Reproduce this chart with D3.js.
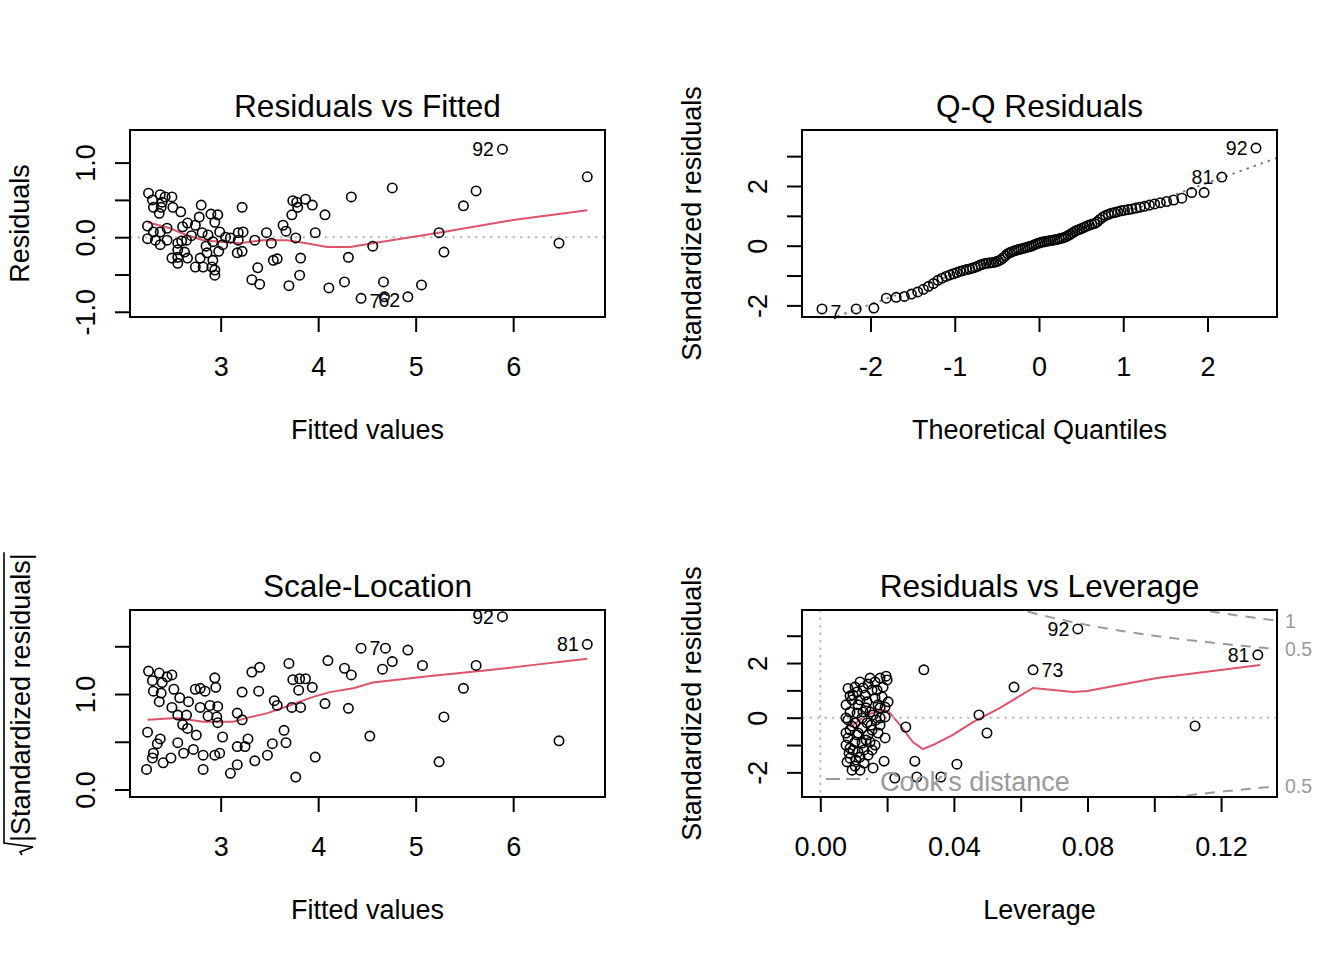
<!DOCTYPE html>
<html>
<head>
<meta charset="utf-8">
<script src="https://cdn.jsdelivr.net/npm/d3@7"></script>
<style>
  body { margin: 0; background: #fff; }
</style>
</head>
<body>
<div id="chart"></div>
<script>
'use strict';

/*
 lm diagnostic plots (plot.lm style), 2 x 2.
 Values.
*/

// ---- Residuals vs Fitted ----
const rvfFitted = [
  2.26, 2.38, 2.43, 2.50, 2.30, 2.40, 2.31, 2.39, 2.37, 2.51, 2.59, 2.80, 2.90, 2.97, 2.78, 2.94,
  3.22, 2.66, 2.74, 2.61, 2.25, 2.31, 2.38, 2.25, 2.33, 2.38, 2.45, 2.56, 2.65, 2.81, 2.87, 2.99,
  3.10, 3.18, 3.23, 3.18, 3.35, 3.47, 3.52, 3.02, 2.92, 2.56, 2.63, 2.56, 2.50, 2.66, 2.56, 2.79,
  2.86, 2.92, 2.74, 2.82, 2.91, 2.94, 2.94, 3.17, 3.22, 2.98, 3.38, 3.32, 3.40, 3.54, 3.58, 3.64,
  3.67, 3.73, 3.74, 3.78, 3.87, 3.79, 3.94, 3.77, 3.82, 3.81, 3.70, 3.97, 4.07, 4.34, 4.31, 4.27,
  4.11, 6.76, 4.76, 5.49, 5.62, 5.24, 4.56, 5.29, 6.47, 4.67, 5.06, 4.92, 2.45, 2.70, 2.85, 3.05, 2.60
];
const rvfResid = [
  0.59, 0.57, 0.54, 0.54, 0.50, 0.47, 0.40, 0.40, 0.32, 0.40, 0.34, 0.43, 0.31, 0.30, 0.27, 0.20,
  0.40, 0.19, 0.16, 0.14, 0.15, 0.07, 0.07, -0.02, -0.04, -0.10, -0.04, -0.08, -0.04, 0.06, 0.03, 0.07,
  -0.01, 0.06, 0.07, -0.04, -0.04, 0.06, -0.08, -0.10, -0.06, -0.17, -0.20, -0.27, -0.28, -0.28, -0.35, -0.28,
  -0.21, -0.31, -0.40, -0.40, -0.40, -0.44, -0.51, -0.21, -0.19, -0.19, -0.41, -0.57, -0.63, -0.31, -0.29, 0.16,
  0.08, 0.30, 0.49, 0.47, 0.51, 0.40, 0.43, -0.01, -0.28, -0.51, -0.65, 0.06, 0.30, 0.54, -0.27, -0.60,
  -0.68, 0.81, 0.66, 0.42, 0.62, 0.06, -0.12, -0.20, -0.08, -0.60, -0.64, -0.80, 0.12, 0.02, -0.12, 0.00, -0.05
];
const rvfIdFitted = [5.89, 4.44, 4.68];
const rvfIdResid = [1.18, -0.82, -0.80];
const rvfIdLabel = ["92", "7", "62"];
const rvfSmoothX = [2.25, 2.48, 2.65, 2.82, 2.99, 3.20, 3.43, 3.68, 3.88, 4.09, 4.33, 4.56, 5.24, 6.00, 6.76];
const rvfSmoothY = [0.20, 0.12, 0.03, -0.04, -0.06, -0.08, -0.04, -0.04, -0.08, -0.13, -0.13, -0.08, 0.06, 0.23, 0.36];

// ---- Q-Q Residuals (sorted standardized residuals) ----
const qqStdResid = [
  -2.12, -2.12, -2.09, -1.76, -1.73, -1.70, -1.62, -1.55, -1.46, -1.36,
  -1.27, -1.16, -1.09, -1.03, -0.98, -0.94, -0.90, -0.86, -0.83, -0.80,
  -0.78, -0.75, -0.72, -0.68, -0.64, -0.61, -0.59, -0.58, -0.57, -0.56,
  -0.54, -0.51, -0.47, -0.41, -0.34, -0.27, -0.23, -0.20, -0.17, -0.15,
  -0.13, -0.11, -0.09, -0.07, -0.05, -0.03, -0.01, 0.02, 0.05, 0.08,
  0.10, 0.12, 0.13, 0.15, 0.16, 0.17, 0.18, 0.20, 0.21, 0.23,
  0.25, 0.27, 0.30, 0.34, 0.38, 0.43, 0.48, 0.52, 0.55, 0.58,
  0.62, 0.66, 0.69, 0.72, 0.74, 0.80, 0.88, 0.95, 1.01, 1.05,
  1.09, 1.11, 1.14, 1.17, 1.19, 1.21, 1.23, 1.26, 1.29, 1.32,
  1.36, 1.40, 1.44, 1.48, 1.53, 1.59, 1.78, 1.78, 2.30, 3.27
];
const qqIdRank = [1, 99, 100];
const qqIdLabel = ["7", "81", "92"];

// ---- Scale-Location ----
const slFitted = [
  2.26, 2.37, 2.45, 2.50, 2.30, 2.40, 2.31, 2.39, 2.52, 2.37, 2.58, 2.67, 2.50, 2.56, 2.65, 2.61,
  2.66, 2.75, 2.74, 2.79, 2.84, 2.94, 2.95, 2.79, 2.89, 2.97, 2.87, 2.96, 2.97, 2.25, 2.38, 2.35,
  2.31, 2.30, 2.41, 2.49, 2.24, 2.56, 2.62, 2.72, 2.82, 2.82, 2.94, 2.99, 3.02, 3.17, 3.22, 3.17,
  3.25, 3.28, 3.17, 3.10, 3.35, 3.48, 3.53, 3.67, 3.65, 3.22, 3.32, 3.40, 3.39, 3.55, 3.58, 3.70,
  3.74, 3.81, 3.87, 3.80, 3.94, 3.73, 3.82, 3.77, 3.97, 4.07, 4.10, 4.27, 4.34, 4.31, 4.53, 4.69,
  4.92, 4.76, 4.66, 5.07, 5.62, 5.49, 5.29, 6.47, 5.24
];
const slRoot = [
  1.24, 1.22, 1.18, 1.20, 1.14, 1.12, 1.03, 1.01, 1.05, 0.92, 0.96, 0.92, 0.86, 0.78, 0.78, 0.68,
  0.64, 0.57, 1.05, 1.06, 1.03, 1.17, 1.07, 0.86, 0.88, 0.87, 0.77, 0.76, 0.70, 0.60, 0.53, 0.48,
  0.38, 0.33, 0.28, 0.33, 0.21, 0.49, 0.38, 0.42, 0.36, 0.21, 0.36, 0.38, 0.55, 0.80, 0.73, 0.45,
  0.45, 0.53, 0.26, 0.17, 0.30, 0.36, 0.48, 0.49, 0.62, 1.02, 1.23, 1.28, 1.03, 0.93, 0.88, 1.32,
  1.15, 1.16, 1.16, 1.04, 1.07, 0.86, 0.86, 0.13, 0.34, 0.90, 1.35, 1.27, 1.20, 0.85, 0.56, 1.48,
  1.46, 1.34, 1.26, 1.30, 1.30, 1.06, 0.76, 0.51, 0.29
];
const slIdFitted = [5.89, 6.76, 4.44];
const slIdRoot = [1.81, 1.52, 1.48];
const slIdLabel = ["92", "81", "7"];
const slSmoothX = [2.25, 2.55, 2.82, 3.13, 3.27, 3.48, 3.68, 3.81, 3.95, 4.12, 4.36, 4.56, 5.15, 5.66, 6.17, 6.76];
const slSmoothY = [0.73, 0.75, 0.71, 0.71, 0.75, 0.80, 0.87, 0.92, 0.97, 1.02, 1.06, 1.12, 1.19, 1.24, 1.30, 1.37];

// ---- Residuals vs Leverage ----
const levHat = [
  0.0310, 0.0083, 0.0197, 0.0200, 0.0179, 0.0149, 0.0119, 0.0104, 0.0128, 0.0155, 0.0188, 0.0098,
  0.0119, 0.0140, 0.0194, 0.0089, 0.0110, 0.0128, 0.0158, 0.0179, 0.0194, 0.0083, 0.0104, 0.0140,
  0.0179, 0.0089, 0.0113, 0.0143, 0.0149, 0.0083, 0.0104, 0.0125, 0.0089, 0.0113, 0.0089, 0.0119,
  0.0104, 0.0194, 0.0256, 0.0191, 0.0158, 0.0283, 0.0223, 0.0289, 0.0361, 0.0409, 0.0475, 0.0499,
  0.0580, 0.1122, 0.0095, 0.0113, 0.0134, 0.0164, 0.0173, 0.0077, 0.0125, 0.0149, 0.0167, 0.0095,
  0.0125, 0.0155, 0.0173, 0.0137, 0.0164, 0.0077, 0.0098, 0.0131, 0.0143, 0.0080, 0.0107, 0.0131,
  0.0095, 0.0119, 0.0170, 0.0143, 0.0164, 0.0110, 0.0089, 0.0185, 0.0203, 0.0077, 0.0110, 0.0077,
  0.0155, 0.0179, 0.0137, 0.0152, 0.0086
];
const levStdResid = [
  1.75, 1.07, 1.52, 1.38, 1.45, 1.45, 1.31, 1.12, 1.09, 1.01, 1.12, 0.83,
  0.65, 0.58, 0.39, 0.21, 0.17, 0.21, 0.10, -0.01, 0.03, -0.08, -0.19, -0.19,
  -0.27, -0.45, -0.56, -0.63, -0.89, -0.74, -0.89, -0.93, -1.11, -1.26, -1.48, -1.44,
  -1.77, -0.74, -0.34, -1.59, -1.84, -1.59, -2.21, -2.17, -2.17, -1.70, 0.10, -0.56,
  1.12, -0.30, 0.65, 0.47, 0.83, 0.72, 0.47, 0.47, -0.01, 0.21, -0.08, -0.31,
  -0.38, -0.45, -0.56, -0.82, -1.00, -1.00, -1.18, -1.18, -1.37, -1.62, -1.55, -1.66,
  -1.92, -1.92, 1.01, 1.23, 1.31, 0.94, 0.80, 0.76, 0.58, -0.01, -0.63, -0.56,
  -1.18, 0.36, 0.36, -0.27, -1.30
];
const levIdHat = [0.0771, 0.1310, 0.0637];
const levIdStd = [3.25, 2.30, 1.75];
const levIdLabel = ["92", "81", "73"];
const levSmoothX = [0.0088, 0.0140, 0.0179, 0.0203, 0.0239, 0.0277, 0.0307, 0.0337, 0.0397, 0.0457, 0.0538, 0.0637, 0.0757, 0.0799, 0.1008, 0.1317];
const levSmoothY = [-0.34, 0.10, 0.28, 0.25, -0.27, -0.89, -1.15, -1.00, -0.63, -0.16, 0.36, 1.09, 0.94, 0.98, 1.45, 1.93];
const cookLevels = [0.5, 1];
const nCoef = 2;

// ---- look ----
const FONT = '"Liberation Sans", Arial, Helvetica, sans-serif';
const AXIS_SIZE = 27;
const TITLE_SIZE = 31.6;
const ID_SIZE = 19.5;
const RED = "#DF536B";
const GRAY = "#BEBEBE";
const GRAY50 = "#7F7F7F";
const COOK = "#9A9A9A";

const svg = d3.select("#chart").append("svg")
  .attr("width", 1344)
  .attr("height", 960)
  .style("background", "#fff");

// R prints a plain hyphen for negatives
const locale = d3.formatLocale({ decimal: ".", thousands: ",", grouping: [3], currency: ["", ""], minus: "-" });
const fmt0 = locale.format("d");
const fmt1 = locale.format(".1f");
const fmt2 = locale.format(".2f");

// Acklam's inverse normal CDF, for theoretical quantiles
function qnorm(p) {
  const a = [-3.969683028665376e+01, 2.209460984245205e+02, -2.759285104469687e+02, 1.383577518672690e+02, -3.066479806614716e+01, 2.506628277459239e+00];
  const b = [-5.447609879822406e+01, 1.615858368580409e+02, -1.556989798598866e+02, 6.680131188771972e+01, -1.328068155288572e+01];
  const c = [-7.784894002430293e-03, -3.223964580411365e-01, -2.400758277161838e+00, -2.549732539343734e+00, 4.374664141464968e+00, 2.938163982698783e+00];
  const d = [7.784695709041462e-03, 3.224671290700398e-01, 2.445134137142996e+00, 3.754408661907416e+00];
  const plow = 0.02425;
  let q, r;
  if (p < plow) {
    q = Math.sqrt(-2 * Math.log(p));
    return (((((c[0] * q + c[1]) * q + c[2]) * q + c[3]) * q + c[4]) * q + c[5]) /
      ((((d[0] * q + d[1]) * q + d[2]) * q + d[3]) * q + 1);
  }
  if (p > 1 - plow) {
    q = Math.sqrt(-2 * Math.log(1 - p));
    return -(((((c[0] * q + c[1]) * q + c[2]) * q + c[3]) * q + c[4]) * q + c[5]) /
      ((((d[0] * q + d[1]) * q + d[2]) * q + d[3]) * q + 1);
  }
  q = p - 0.5;
  r = q * q;
  return (((((a[0] * r + a[1]) * r + a[2]) * r + a[3]) * r + a[4]) * r + a[5]) * q /
    (((((b[0] * r + b[1]) * r + b[2]) * r + b[3]) * r + b[4]) * r + 1);
}

const near = (list, v) => list.some(t => Math.abs(t - v) < 1e-9);

function makePanel(cfg) {
  const f = cfg.frame;
  const x = d3.scaleLinear().domain(cfg.xDomain).range([f.x0, f.x1]);
  const y = d3.scaleLinear().domain(cfg.yDomain).range([f.y1, f.y0]);

  const g = svg.append("g").classed("panel " + cfg.id, true);

  g.append("clipPath").attr("id", "clip-" + cfg.id)
    .append("rect")
    .attr("x", f.x0).attr("y", f.y0)
    .attr("width", f.x1 - f.x0).attr("height", f.y1 - f.y0);

  const plot = g.append("g").attr("clip-path", `url(#clip-${cfg.id})`);
  const marks = g.append("g");

  // bottom axis
  const axX = g.append("g")
    .attr("transform", `translate(0,${f.y1})`)
    .call(d3.axisBottom(x)
      .tickValues(cfg.xTicks)
      .tickSize(15)
      .tickSizeOuter(0)
      .tickFormat(d => near(cfg.xLabels, d) ? cfg.xFormat(d) : ""));
  axX.select(".domain").remove();
  axX.append("line")
    .attr("x1", x(cfg.xTicks[0])).attr("x2", x(cfg.xTicks[cfg.xTicks.length - 1]))
    .attr("stroke", "#000").attr("stroke-width", 2);
  axX.selectAll(".tick line").attr("stroke", "#000").attr("stroke-width", 2);
  axX.selectAll("text")
    .attr("y", 59).attr("dy", null)
    .attr("fill", "#000")
    .attr("font-family", FONT)
    .attr("font-size", AXIS_SIZE);

  // left axis, labels parallel to axis
  const axY = g.append("g")
    .attr("transform", `translate(${f.x0},0)`)
    .call(d3.axisLeft(y)
      .tickValues(cfg.yTicks)
      .tickSize(15)
      .tickSizeOuter(0)
      .tickFormat(d => near(cfg.yLabels, d) ? cfg.yFormat(d) : ""));
  axY.select(".domain").remove();
  axY.append("line")
    .attr("y1", y(cfg.yTicks[0])).attr("y2", y(cfg.yTicks[cfg.yTicks.length - 1]))
    .attr("stroke", "#000").attr("stroke-width", 2);
  axY.selectAll(".tick line").attr("stroke", "#000").attr("stroke-width", 2);
  axY.selectAll("text")
    .attr("x", 0).attr("y", 0).attr("dy", null)
    .attr("transform", "translate(-35,0) rotate(-90)")
    .attr("text-anchor", "middle")
    .attr("fill", "#000")
    .attr("font-family", FONT)
    .attr("font-size", AXIS_SIZE);

  // frame
  g.append("rect")
    .attr("x", f.x0).attr("y", f.y0)
    .attr("width", f.x1 - f.x0).attr("height", f.y1 - f.y0)
    .attr("fill", "none").attr("stroke", "#000").attr("stroke-width", 2);

  // title and x label
  g.append("text")
    .attr("x", (f.x0 + f.x1) / 2).attr("y", f.y0 - 13)
    .attr("text-anchor", "middle")
    .attr("font-family", FONT).attr("font-size", TITLE_SIZE)
    .text(cfg.title);

  g.append("text")
    .attr("x", (f.x0 + f.x1) / 2).attr("y", f.y1 + 122)
    .attr("text-anchor", "middle")
    .attr("font-family", FONT).attr("font-size", AXIS_SIZE)
    .text(cfg.xTitle);

  if (cfg.yTitle) {
    g.append("text")
      .attr("transform", `translate(${f.x0 - 101},${(f.y0 + f.y1) / 2}) rotate(-90)`)
      .attr("text-anchor", "middle")
      .attr("font-family", FONT).attr("font-size", AXIS_SIZE)
      .text(cfg.yTitle);
  }

  return { x, y, g, plot, marks, frame: f };
}

function drawPoints(p, xs, ys) {
  p.marks.append("g")
    .selectAll("circle")
    .data(xs.map((v, i) => [v, ys[i]]))
    .join("circle")
    .attr("cx", d => p.x(d[0]))
    .attr("cy", d => p.y(d[1]))
    .attr("r", 4.7)
    .attr("fill", "none")
    .attr("stroke", "#000")
    .attr("stroke-width", 1.6);
}

function drawSmooth(p, xs, ys) {
  const line = d3.line().x(d => p.x(d[0])).y(d => p.y(d[1]));
  p.plot.append("path")
    .attr("d", line(xs.map((v, i) => [v, ys[i]])))
    .attr("fill", "none")
    .attr("stroke", RED)
    .attr("stroke-width", 2);
}

function hLine(p, v, color) {
  p.plot.append("line")
    .attr("x1", p.frame.x0).attr("x2", p.frame.x1)
    .attr("y1", p.y(v)).attr("y2", p.y(v))
    .attr("stroke", color).attr("stroke-width", 2)
    .attr("stroke-dasharray", "2.5,5");
}

// labels go right of the point on the left half, left of it on the right half;
// nudge lets a crowded label slide along so it does not sit on its neighbour
function drawIds(p, xs, ys, labels, nudge = {}) {
  const mid = d3.mean(p.x.domain());
  p.marks.append("g")
    .selectAll("text")
    .data(labels.map((l, i) => ({ l, xv: xs[i], yv: ys[i] })))
    .join("text")
    .attr("x", d => {
      if (nudge[d.l]) return p.x(d.xv) + nudge[d.l].dx;
      return p.x(d.xv) + (d.xv > mid ? -8.5 : 8.5);
    })
    .attr("y", d => p.y(d.yv) + 7 + (d.yv < 0 ? 3 : 0))
    .attr("text-anchor", d => nudge[d.l] ? nudge[d.l].anchor : (d.xv > mid ? "end" : "start"))
    .attr("font-family", FONT)
    .attr("font-size", ID_SIZE)
    .text(d => d.l);
}

// ---------------- panel 1 ----------------
const p1 = makePanel({
  id: "rvf",
  frame: { x0: 130, x1: 605, y0: 130, y1: 317 },
  xDomain: [2.070, 6.942], yDomain: [-1.070, 1.437],
  xTicks: [3, 4, 5, 6], xLabels: [3, 4, 5, 6], xFormat: fmt0,
  yTicks: [-1, -0.5, 0, 0.5, 1], yLabels: [-1, 0, 1], yFormat: fmt1,
  title: "Residuals vs Fitted", xTitle: "Fitted values", yTitle: "Residuals"
});
hLine(p1, 0, GRAY);
drawPoints(p1, rvfFitted.concat(rvfIdFitted), rvfResid.concat(rvfIdResid));
drawSmooth(p1, rvfSmoothX, rvfSmoothY);
drawIds(p1, rvfIdFitted, rvfIdResid, rvfIdLabel, { "62": { anchor: "start", dx: -6 } });

// ---------------- panel 2 ----------------
const p2 = makePanel({
  id: "qq",
  frame: { x0: 802, x1: 1277, y0: 130, y1: 317 },
  xDomain: [-2.813, 2.825], yDomain: [-2.389, 3.876],
  xTicks: [-2, -1, 0, 1, 2], xLabels: [-2, -1, 0, 1, 2], xFormat: fmt0,
  yTicks: [-2, -1, 0, 1, 2, 3], yLabels: [-2, 0, 2], yFormat: fmt0,
  title: "Q-Q Residuals", xTitle: "Theoretical Quantiles", yTitle: "Standardized residuals"
});
const nq = qqStdResid.length;
const qqTheo = qqStdResid.map((_, i) => qnorm((i + 1 - 0.5) / nq));
{
  const yq = [d3.quantile(qqStdResid, 0.25), d3.quantile(qqStdResid, 0.75)];
  const xq = [qnorm(0.25), qnorm(0.75)];
  const slope = (yq[1] - yq[0]) / (xq[1] - xq[0]);
  const icpt = yq[0] - slope * xq[0];
  const [a, b] = p2.x.domain();
  p2.plot.append("line")
    .attr("x1", p2.x(a)).attr("y1", p2.y(icpt + slope * a))
    .attr("x2", p2.x(b)).attr("y2", p2.y(icpt + slope * b))
    .attr("stroke", GRAY50).attr("stroke-width", 2)
    .attr("stroke-dasharray", "2.5,5");
}
drawPoints(p2, qqTheo, qqStdResid);
drawIds(p2, qqIdRank.map(r => qqTheo[r - 1]), qqIdRank.map(r => qqStdResid[r - 1]), qqIdLabel);

// ---------------- panel 3 ----------------
const p3 = makePanel({
  id: "sl",
  frame: { x0: 130, x1: 605, y0: 610, y1: 797 },
  xDomain: [2.070, 6.942], yDomain: [-0.0785, 1.880],
  xTicks: [3, 4, 5, 6], xLabels: [3, 4, 5, 6], xFormat: fmt0,
  yTicks: [0, 0.5, 1, 1.5], yLabels: [0, 1], yFormat: fmt1,
  title: "Scale-Location", xTitle: "Fitted values", yTitle: null
});
drawPoints(p3, slFitted.concat(slIdFitted), slRoot.concat(slIdRoot));
drawSmooth(p3, slSmoothX, slSmoothY);
drawIds(p3, slIdFitted, slIdRoot, slIdLabel);

// y label: sqrt(|Standardized residuals|)
{
  const lab = svg.append("g")
    .attr("transform", "translate(30,842) rotate(-90)");
  const t = lab.append("text")
    .attr("x", 0).attr("y", 0)
    .attr("font-family", FONT).attr("font-size", AXIS_SIZE)
    .text("|Standardized residuals|");
  const w = t.node().getComputedTextLength();
  lab.append("path")
    .attr("d", `M-13,-8 L-10,-10 L-5,3 L-1,-26 L${w + 1},-26`)
    .attr("fill", "none").attr("stroke", "#000").attr("stroke-width", 1.6);
}

// ---------------- panel 4 ----------------
const p4 = makePanel({
  id: "lev",
  frame: { x0: 802, x1: 1277, y0: 610, y1: 797 },
  xDomain: [-0.00548, 0.13674], yDomain: [-2.902, 3.941],
  xTicks: [0, 0.02, 0.04, 0.06, 0.08, 0.10, 0.12], xLabels: [0, 0.04, 0.08, 0.12], xFormat: fmt2,
  yTicks: [-2, -1, 0, 1, 2, 3], yLabels: [-2, 0, 2], yFormat: fmt0,
  title: "Residuals vs Leverage", xTitle: "Leverage", yTitle: "Standardized residuals"
});
drawPoints(p4, levHat.concat(levIdHat), levStdResid.concat(levIdStd));
drawSmooth(p4, levSmoothX, levSmoothY);
hLine(p4, 0, GRAY);
p4.plot.append("line")
  .attr("x1", p4.x(0)).attr("x2", p4.x(0))
  .attr("y1", p4.frame.y0).attr("y2", p4.frame.y1)
  .attr("stroke", GRAY).attr("stroke-width", 2)
  .attr("stroke-dasharray", "2.5,5");

// Cook's distance contours
{
  const hMax = p4.x.domain()[1];
  const hMin = 0.0001;
  const hh = d3.range(101).map(i => hMin + (hMax - hMin) * i / 100);
  const line = d3.line().x(d => p4.x(d[0])).y(d => p4.y(d[1]));
  cookLevels.forEach(crit => {
    [1, -1].forEach(sgn => {
      p4.plot.append("path")
        .attr("d", line(hh.map(h => [h, sgn * Math.sqrt(crit * nCoef * (1 - h) / h)])))
        .attr("fill", "none")
        .attr("stroke", COOK).attr("stroke-width", 2)
        .attr("stroke-dasharray", "10,8");
    });
  });

  // right margin labels
  const ymult = Math.sqrt(nCoef * (1 - hMax) / hMax);
  const [yLo, yHi] = p4.y.domain();
  const at = [];
  cookLevels.forEach(c => { at.push({ v: Math.sqrt(c) * ymult, l: String(c) }); at.push({ v: -Math.sqrt(c) * ymult, l: String(c) }); });
  p4.marks.append("g").selectAll("text")
    .data(at.filter(d => d.v >= yLo && d.v <= yHi))
    .join("text")
    .attr("x", p4.frame.x1 + 8)
    .attr("y", d => p4.y(d.v) + 7)
    .attr("fill", COOK)
    .attr("font-family", FONT).attr("font-size", ID_SIZE)
    .text(d => d.l);

  // legend, bottom left
  const lg = p4.marks.append("g");
  lg.append("line")
    .attr("x1", p4.frame.x0 + 24).attr("x2", p4.frame.x0 + 66)
    .attr("y1", p4.frame.y1 - 18).attr("y2", p4.frame.y1 - 18)
    .attr("stroke", COOK).attr("stroke-width", 2)
    .attr("stroke-dasharray", "14,6");
  lg.append("text")
    .attr("x", p4.frame.x0 + 78).attr("y", p4.frame.y1 - 6)
    .attr("fill", COOK)
    .attr("font-family", FONT).attr("font-size", AXIS_SIZE)
    .text("Cook's distance");
}
drawIds(p4, levIdHat, levIdStd, levIdLabel);
</script>
</body>
</html>
